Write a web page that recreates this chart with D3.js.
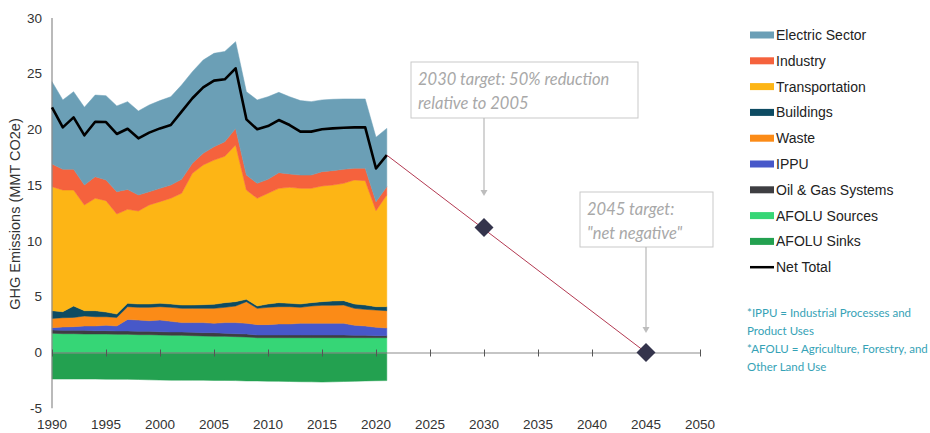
<!DOCTYPE html>
<html>
<head>
<meta charset="utf-8">
<script src="https://cdn.jsdelivr.net/npm/d3@7/dist/d3.min.js"></script>
<style>
  body { margin: 0; background: #fff; }
  svg { display: block; }
</style>
</head>
<body>
<svg id="chart" width="930" height="433"></svg>
<script>
// ---------- DATA ----------
const years = d3.range(1990, 2022);
const electric = [7.38,6.22,6.96,6.97,7.32,7.56,7.69,7.87,7.53,7.78,7.87,7.92,8.46,8.22,8.37,8.37,8.10,7.78,7.48,7.48,7.41,7.20,6.93,6.68,6.59,6.43,6.40,6.31,6.22,6.22,5.77,5.23];
const industry = [2.04,1.86,1.86,1.79,1.94,1.85,2.00,1.79,1.44,1.19,1.19,1.19,1.25,0.90,1.04,1.20,1.30,1.49,1.34,1.34,1.25,1.41,1.20,1.19,1.19,1.29,1.29,1.26,1.05,1.11,0.81,0.74];
const transportation = [11.12,10.91,10.40,9.48,10.08,9.99,8.97,8.43,8.34,8.88,9.12,9.48,10.02,11.81,12.53,12.94,13.13,14.05,9.80,9.66,9.93,10.25,10.40,10.37,10.25,10.37,10.40,10.52,11.12,11.15,8.61,10.02];
const buildings = [0.69,0.54,1.02,0.48,0.54,0.42,0.30,0.30,0.30,0.30,0.30,0.30,0.30,0.30,0.33,0.36,0.42,0.39,0.21,0.21,0.30,0.36,0.30,0.30,0.30,0.33,0.39,0.39,0.39,0.39,0.30,0.36];
const waste = [0.83,0.83,0.83,0.89,0.83,0.77,0.77,1.14,1.14,1.20,1.20,1.25,1.28,1.28,1.28,1.34,1.37,1.49,1.94,1.46,1.55,1.55,1.55,1.43,1.55,1.61,1.61,1.64,1.52,1.49,1.55,1.55];
const ippu = [0.21,0.30,0.33,0.39,0.42,0.48,0.45,1.04,1.01,0.95,1.04,0.96,0.84,0.87,0.90,0.84,0.96,0.99,0.96,0.93,0.93,0.99,0.99,1.05,1.05,1.05,1.05,1.05,0.90,0.84,0.75,0.69];
const oilGas = [0.30,0.30,0.30,0.33,0.30,0.30,0.30,0.30,0.30,0.30,0.30,0.30,0.30,0.30,0.30,0.33,0.27,0.27,0.27,0.24,0.24,0.24,0.24,0.24,0.24,0.24,0.24,0.24,0.21,0.21,0.18,0.18];
const afoluSources = [1.72,1.69,1.69,1.66,1.66,1.66,1.63,1.63,1.60,1.60,1.57,1.54,1.54,1.51,1.48,1.45,1.45,1.42,1.39,1.33,1.33,1.33,1.33,1.33,1.33,1.33,1.33,1.33,1.33,1.33,1.33,1.33];
const afoluSinks = [-2.38,-2.38,-2.38,-2.38,-2.38,-2.39,-2.40,-2.40,-2.42,-2.45,-2.47,-2.48,-2.48,-2.48,-2.48,-2.50,-2.50,-2.52,-2.55,-2.55,-2.57,-2.58,-2.60,-2.62,-2.63,-2.65,-2.63,-2.60,-2.58,-2.55,-2.53,-2.52];
const netTotal = [21.99,20.19,21.09,19.48,20.70,20.67,19.60,20.07,19.21,19.72,20.10,20.40,21.60,22.80,23.78,24.38,24.50,25.49,20.91,20.02,20.31,20.85,20.40,19.81,19.81,20.02,20.10,20.16,20.19,20.19,16.50,17.70];

const projectionYears = [2021, 2045];
const projectionValues = [17.7, 0];
const targetYears = [2030, 2045];
const targetValues = [11.2, 0];

const xTicks = [1990,1995,2000,2005,2010,2015,2020,2025,2030,2035,2040,2045,2050];
const yTicks = [-5,0,5,10,15,20,25,30];

const seriesNames = ["Electric Sector","Industry","Transportation","Buildings","Waste","IPPU","Oil & Gas Systems","AFOLU Sources","AFOLU Sinks"];
const seriesColors = ["#6b9fb6","#f5623d","#fdb515","#0d4b62","#fb8b17","#4758c9","#3e3e42","#36d676","#23a150"];
const seriesValues = [electric,industry,transportation,buildings,waste,ippu,oilGas,afoluSources,afoluSinks];

const annotation1 = ["2030 target: 50% reduction","relative to 2005"];
const annotation2 = ["2045 target:","\"net negative\""];
const footnote = ["*IPPU = Industrial Processes and","Product Uses","*AFOLU = Agriculture, Forestry, and","Other Land Use"];

// ---------- BUILD ----------
const svg = d3.select("#chart");
const x = d3.scaleLinear().domain([1990, 2050]).range([52, 700]);
const y = d3.scaleLinear().domain([-5, 30]).range([408.25, 18]);

const table = years.map((yr, i) => {
  const row = { year: yr };
  seriesNames.forEach((n, k) => row[n] = seriesValues[k][i]);
  return row;
});
// stack order bottom → top
const stackKeys = ["AFOLU Sources","Oil & Gas Systems","IPPU","Waste","Buildings","Transportation","Industry","Electric Sector","AFOLU Sinks"];
const stacked = d3.stack().keys(stackKeys).offset(d3.stackOffsetDiverging)(table);
const color = d3.scaleOrdinal().domain(seriesNames).range(seriesColors);

const area = d3.area()
  .x(d => x(d.data.year))
  .y0(d => y(d[0]))
  .y1(d => y(d[1]));

svg.append("g").selectAll("path")
  .data(stacked)
  .join("path")
  .attr("d", area)
  .attr("fill", d => color(d.key))
  .attr("stroke", d => color(d.key))
  .attr("stroke-width", 0.5);

// axes
const axisColor = "#8c8c8c";
svg.append("line")
  .attr("x1", x(1990)).attr("x2", x(1990))
  .attr("y1", y(30)).attr("y2", y(-5))
  .attr("stroke", axisColor).attr("stroke-width", 1.2);

const xAxis = d3.axisBottom(x).tickValues(xTicks).tickSize(0).tickFormat("");
const gx = svg.append("g").attr("transform", `translate(0,${y(0)})`).call(xAxis);
gx.select(".domain").attr("stroke", axisColor).attr("stroke-width", 1.2);
gx.selectAll(".tick").append("line")
  .attr("y1", -3).attr("y2", 4)
  .attr("stroke", "#555").attr("stroke-width", 1);

svg.append("g").selectAll("text")
  .data(xTicks).join("text")
  .attr("x", d => x(d)).attr("y", 424)
  .attr("dy", "0.35em")
  .attr("text-anchor", "middle")
  .attr("font-family", "Liberation Sans, Arial, sans-serif")
  .attr("font-size", 13.5).attr("fill", "#333")
  .text(d => d);

svg.append("g").selectAll("text")
  .data(yTicks).join("text")
  .attr("x", 42).attr("y", d => y(d))
  .attr("dy", "0.35em")
  .attr("text-anchor", "end")
  .attr("font-family", "Liberation Sans, Arial, sans-serif")
  .attr("font-size", 13.5).attr("fill", "#333")
  .text(d => d);

svg.append("text")
  .attr("transform", "translate(15,214) rotate(-90)")
  .attr("dy", "0.35em")
  .attr("text-anchor", "middle")
  .attr("font-family", "Liberation Sans, Arial, sans-serif")
  .attr("font-size", 14.5).attr("fill", "#333")
  .text("GHG Emissions (MMT CO2e)");

// net total line
svg.append("path")
  .datum(years.map((yr, i) => [yr, netTotal[i]]))
  .attr("d", d3.line().x(d => x(d[0])).y(d => y(d[1])))
  .attr("fill", "none").attr("stroke", "#000").attr("stroke-width", 2.6)
  .attr("stroke-linejoin", "round");

// projection line
svg.append("path")
  .datum(projectionYears.map((yr, i) => [yr, projectionValues[i]]))
  .attr("d", d3.line().x(d => x(d[0])).y(d => y(d[1])))
  .attr("fill", "none").attr("stroke", "#b33a52").attr("stroke-width", 1);

// annotations
const annoFont = "Lato, 'Open Sans', sans-serif";
function annotationBox(lines, x0, y0, w, h, arrowX, arrowY2) {
  svg.append("rect").attr("x", x0).attr("y", y0).attr("width", w).attr("height", h)
    .attr("fill", "#fff").attr("stroke", "#c9c9c9").attr("stroke-width", 1);
  lines.forEach((t, i) => {
    svg.append("text").attr("x", x0 + 7).attr("y", y0 + 17 + i * 24)
      .attr("dy", "0.35em")
      .attr("font-family", annoFont).attr("font-style", "italic")
      .attr("font-size", 16.5).attr("fill", "#a8a8a8")
      .text(t);
  });
  svg.append("line").attr("x1", arrowX).attr("x2", arrowX)
    .attr("y1", y0 + h).attr("y2", arrowY2 - 5)
    .attr("stroke", "#bdbdbd").attr("stroke-width", 1.3);
  svg.append("path")
    .attr("d", `M${arrowX - 3.5},${arrowY2 - 6} L${arrowX + 3.5},${arrowY2 - 6} L${arrowX},${arrowY2} Z`)
    .attr("fill", "#bdbdbd");
}
annotationBox(annotation1, 411, 62, 227, 56, x(2030), 196);
annotationBox(annotation2, 580, 192, 133, 55, x(2045), 333);

// target diamonds
svg.append("g").selectAll("path")
  .data(targetYears.map((yr, i) => [yr, targetValues[i]]))
  .join("path")
  .attr("transform", d => `translate(${x(d[0])},${y(d[1])})`)
  .attr("d", "M0,-9.5 L9.5,0 L0,9.5 L-9.5,0 Z")
  .attr("fill", "#34344c");

// legend
const legendNames = seriesNames.concat(["Net Total"]);
const lg = svg.append("g");
legendNames.forEach((n, i) => {
  const cy = 35 + i * 25.8;
  if (n === "Net Total") {
    lg.append("line").attr("x1", 750).attr("x2", 774).attr("y1", cy).attr("y2", cy)
      .attr("stroke", "#000").attr("stroke-width", 2.5);
  } else {
    lg.append("rect").attr("x", 750).attr("y", cy - 3.5).attr("width", 24).attr("height", 7)
      .attr("fill", color(n));
  }
  lg.append("text").attr("x", 776).attr("y", cy).attr("dy", "0.35em")
    .attr("font-family", "Liberation Sans, Arial, sans-serif")
    .attr("font-size", 14).attr("fill", "#222")
    .text(n);
});

// footnote
footnote.forEach((t, i) => {
  svg.append("text").attr("x", 747).attr("y", 313 + i * 18).attr("dy", "0.35em")
    .attr("font-family", "Lato, 'Open Sans', sans-serif")
    .attr("font-size", 11.5).attr("fill", "#35a2b6")
    .text(t);
});
</script>
</body>
</html>
